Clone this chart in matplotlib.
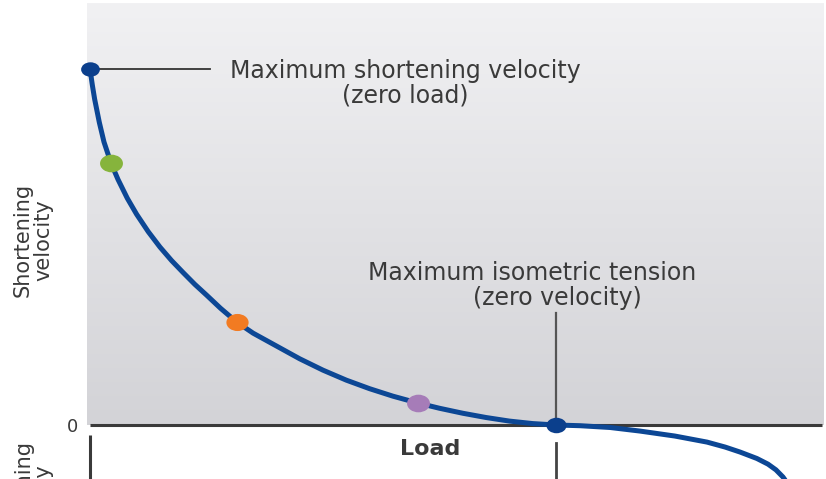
import numpy as np
import matplotlib
matplotlib.use("Agg")
import matplotlib.pyplot as plt
from matplotlib.path import Path
from matplotlib.transforms import Affine2D

# ---- data (normalised load, normalised shortening velocity) ----
load = [0.0, 0.005, 0.010, 0.020, 0.030, 0.045, 0.060, 0.080, 0.100, 0.125,
        0.150, 0.175, 0.200, 0.225, 0.250, 0.280, 0.315, 0.350, 0.400, 0.450,
        0.500, 0.550, 0.600, 0.650, 0.700, 0.750, 0.800, 0.850, 0.900, 0.950,
        1.000, 1.052, 1.116, 1.180, 1.255, 1.324, 1.363, 1.395, 1.431, 1.455,
        1.472, 1.487, 1.502, 1.513]
velocity = [1.000, 0.955, 0.915, 0.850, 0.795, 0.736, 0.690, 0.637, 0.592, 0.543,
            0.500, 0.462, 0.428, 0.395, 0.365, 0.328, 0.289, 0.258, 0.222, 0.186,
            0.154, 0.126, 0.102, 0.081, 0.063, 0.047, 0.033, 0.021, 0.011, 0.004,
            0.000, -0.002, -0.007, -0.017, -0.031, -0.048, -0.062, -0.076, -0.094, -0.110,
            -0.126, -0.146, -0.174, -0.202]

point_load = [0.0, 0.045, 0.315, 0.704, 1.0]
point_velocity = [1.0, 0.736, 0.289, 0.062, 0.0]
point_colors = ['#0b3f8c', '#86b43c', '#f27b22', '#a67cb8', '#0b3f8c']
point_sizes = [13.5, 16.5, 16, 16.5, 14.5]

label_top = "Maximum shortening velocity"
label_top2 = "(zero load)"
label_iso = "Maximum isometric tension"
label_iso2 = "(zero velocity)"
ylabel_pos = "Shortening\nvelocity"
ylabel_neg = "Lengthening\nvelocity"
xlabel = "Load"
zero_label = "0"

W, H = 826, 479
fig = plt.figure(figsize=(W / 100, H / 100), dpi=100)
ax = fig.add_axes([0, 0, 1, 1])
ax.set_axis_off()

# pixel mapping of the chart frame (layout only)
x0_px, x1_px = 90, 556   # load 0 and load 1
y0_px, y1_px = 425, 69   # velocity 0 and velocity 1
sx = (x1_px - x0_px)
sy = (y0_px - y1_px)
ax.set_xlim(-x0_px / sx, (W - x0_px) / sx)
ax.set_ylim((y0_px - H) / sy, y0_px / sy)


def fx(px):
    return (px - x0_px) / sx


def fy(py):
    return (y0_px - py) / sy


# gradient panel
grad = np.linspace(0, 1, 256)[:, None]
top = np.array([241, 241, 243]) / 255
bot = np.array([211, 211, 215]) / 255
img = top[None, None, :] * (1 - grad[..., None]) + bot[None, None, :] * grad[..., None]
img = np.repeat(img, 2, axis=1)
ax.imshow(img, extent=[fx(87), fx(824), fy(425), fy(3)], aspect='auto',
          zorder=0, interpolation='bilinear')

# axes lines
ax.plot([fx(90), fx(822)], [0, 0], color='#3a3a3a', lw=2.2,
        solid_capstyle='butt', zorder=2)
ax.plot([0, 0], [fy(435), fy(490)], color='#3a3a3a', lw=2.2,
        solid_capstyle='butt', zorder=2)

# annotation lines
ax.plot([0, fx(210)], [1.0, 1.0], color='#333333', lw=1.3, zorder=2)
ax.plot([1.0, 1.0], [fy(313), 0], color='#555555', lw=1.6, zorder=2)
ax.plot([1.0, 1.0], [fy(443), fy(490)], color='#444444', lw=2.0, zorder=2)

# curve
ax.plot(load, velocity, color='#0c4795', lw=3.6, solid_joinstyle='round',
        solid_capstyle='round', zorder=3)

# points (elliptical markers, like the stretched original)
ell = Path.unit_circle().transformed(Affine2D().scale(1.3, 1.0))
for lx, vy, c, s in zip(point_load, point_velocity, point_colors, point_sizes):
    ax.plot([lx], [vy], marker=ell, markersize=s, color=c,
            markeredgewidth=0, zorder=4, linestyle='none')


def P(x, y):
    return x / W, 1 - y / H


tc = '#3a3a3a'
fam = 'DejaVu Sans'
fig.text(*P(405, 78), label_top, ha='center', va='baseline', fontsize=17,
         color=tc, family=fam)
fig.text(*P(405, 103), label_top2, ha='center', va='baseline', fontsize=17,
         color=tc, family=fam)
fig.text(*P(532, 280), label_iso, ha='center', va='baseline', fontsize=17,
         color=tc, family=fam)
fig.text(*P(557, 305), label_iso2, ha='center', va='baseline', fontsize=17,
         color=tc, family=fam)
fig.text(*P(430, 455), xlabel, ha='center', va='baseline', fontsize=16,
         color=tc, family=fam, fontweight='bold')
fig.text(*P(72, 427), zero_label, ha='center', va='center', fontsize=13,
         color=tc, family=fam)
fig.text(*P(33, 240), ylabel_pos, ha='center', va='center', rotation=90,
         fontsize=15, color=tc, family=fam, linespacing=1.0,
         multialignment='center')
fig.text(*P(33, 505), ylabel_neg, ha='center', va='center', rotation=90,
         fontsize=15, color=tc, family=fam, linespacing=1.0,
         multialignment='center')

fig.savefig('out.png', dpi=100, facecolor='white')
